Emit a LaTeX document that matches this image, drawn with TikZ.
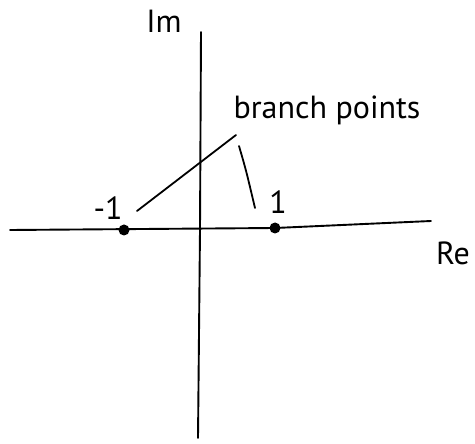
\documentclass[tikz,border=0pt]{standalone}
\usepackage{fontspec}
\setmainfont{PT Sans}
\begin{document}
\begin{tikzpicture}[x=1pt,y=-1pt,
  axis/.style={line width=1.9pt,line cap=round,line join=round},
  pointer/.style={line width=1.8pt,line cap=round},
  bpoint/.style={circle,fill=black,inner sep=0pt,minimum size=11pt},
  lbl/.style={font=\fontsize{32}{36}\selectfont,inner sep=0pt}]
\useasboundingbox (0,0) rectangle (475,444);
% axes
\coordinate (xl) at (10,230);
\coordinate (xm) at (275,228);
\coordinate (xr) at (431,221);
\coordinate (yt) at (201,32);
\coordinate (ym) at (200,230);
\coordinate (yb) at (198,438);
\draw[axis] (xl) -- (xm) -- (xr);
\draw[axis] (yt) -- (ym) -- (yb);
% branch points
\node[bpoint] (m1) at (124,230) {};
\node[bpoint] (p1) at (275,228) {};
% labels
\node[lbl] (lm1) at (108,208) {-1};
\node[lbl] (lp1) at (278,202) {1};
\node[lbl] (re) at (453,253) {Re};
\node[lbl] (im) at (164,21) {Im};
\node[lbl] (bp) at (327,110) {branch points};
% pointer lines
\coordinate (a1) at (236,135);
\coordinate (a2) at (137,211);
\coordinate (b1) at (239,146);
\coordinate (b2) at (255,208);
\draw[pointer] (a1) -- (a2);
\draw[pointer] (b1) .. controls (246,170) .. (b2);
\end{tikzpicture}
\end{document}
